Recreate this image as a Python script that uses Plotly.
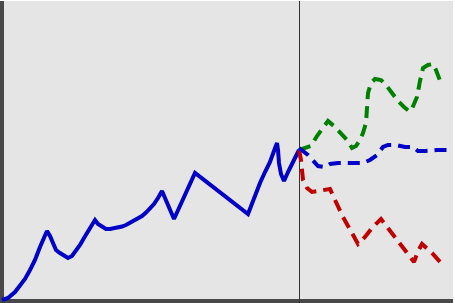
import plotly.graph_objects as go

# Historical series (x = time step, y = value)
hist_x = [2, 8, 15, 20, 25, 30, 35, 40, 44, 47, 50, 53, 56, 60, 64, 68, 72, 76, 80, 84, 88, 92, 95,
          98, 102, 106, 110, 114, 118, 122, 126, 130, 134, 138, 142, 146, 150, 154, 158, 162, 174,
          195, 248, 254, 260, 265, 270, 274, 277, 278, 279, 281,
          284, 288, 292, 296, 299]
hist_y = [3, 5, 11, 17, 24, 33, 43, 56, 66, 72, 67, 60, 53, 50, 47, 45, 47, 52, 58, 65, 71, 78, 83,
          79, 76, 74, 74, 74.5, 75.5, 76.5, 78, 80, 82, 84.5, 87, 90.5, 94.5, 99, 105, 112, 84,
          130, 89, 106, 120, 131, 141, 152, 160, 153, 140, 129,
          122, 131, 140, 147, 153]

# Projection scenarios starting at the last historical point
up_x = [299, 303, 311, 317, 323, 328, 335, 341, 347, 352, 356, 360, 363, 366, 367, 368, 371, 375,
        381, 386, 392, 398, 404, 409, 411, 414, 417, 420, 423, 428, 433, 436, 439, 442]
up_y = [153, 154, 157, 167, 175, 182, 176, 170, 163, 155, 157, 163, 170, 180, 195, 210, 220, 224,
        223, 218, 210, 202, 196, 192, 192, 198, 206, 222, 235, 238, 239, 233, 225, 217]

mid_x = [299, 308, 318, 325, 330, 338, 350, 363, 370, 377, 383, 388, 396, 405, 413, 418, 425, 437, 450]
mid_y = [155, 148, 137, 136, 139, 140, 140, 140, 143, 148, 156, 158, 158, 156, 156, 152, 152, 153, 153]

down_x = [299, 301, 303, 307, 312, 320, 330, 335, 343, 352, 358, 365, 372, 381, 392, 402, 414, 418,
          422, 432, 441]
down_y = [153, 143, 123, 115, 111, 112, 114, 103, 86, 70, 59, 66, 75, 84, 70, 56, 41, 52, 59, 50, 40]

split_x = 299.5

BG = "#e5e5e5"
AXIS = "#484848"
DASH = "12px,7px"

fig = go.Figure()
fig.add_trace(go.Scatter(x=hist_x, y=hist_y, mode="lines",
                         line=dict(color="#0000c8", width=4)))
fig.add_trace(go.Scatter(x=up_x, y=up_y, mode="lines",
                         line=dict(color="#008000", width=4, dash=DASH)))
fig.add_trace(go.Scatter(x=down_x, y=down_y, mode="lines",
                         line=dict(color="#c00000", width=4, dash=DASH)))
fig.add_trace(go.Scatter(x=mid_x, y=mid_y, mode="lines",
                         line=dict(color="#0000c8", width=4, dash=DASH)))

# axis bands and forecast divider (drawn beneath the traces)
fig.add_shape(type="rect", xref="x", yref="y", x0=0, x1=4, y0=0, y1=302,
              fillcolor=AXIS, line_width=0, layer="below")
fig.add_shape(type="rect", xref="x", yref="y", x0=0, x1=453, y0=0, y1=4,
              fillcolor=AXIS, line_width=0, layer="below")
fig.add_shape(type="line", xref="x", yref="y", x0=split_x, x1=split_x, y0=0, y1=302,
              line=dict(color="#333333", width=1), layer="below")

fig.update_layout(
    width=455, height=303,
    margin=dict(l=0, r=2, t=1, b=0),
    paper_bgcolor="white", plot_bgcolor=BG,
    showlegend=False, hovermode=False,
    xaxis=dict(range=[0, 453], showgrid=False, zeroline=False, showticklabels=False,
               ticks="", showline=False, fixedrange=True),
    yaxis=dict(range=[0, 302], showgrid=False, zeroline=False, showticklabels=False,
               ticks="", showline=False, fixedrange=True),
)

fig.write_html("out.html", config={"displayModeBar": False})
